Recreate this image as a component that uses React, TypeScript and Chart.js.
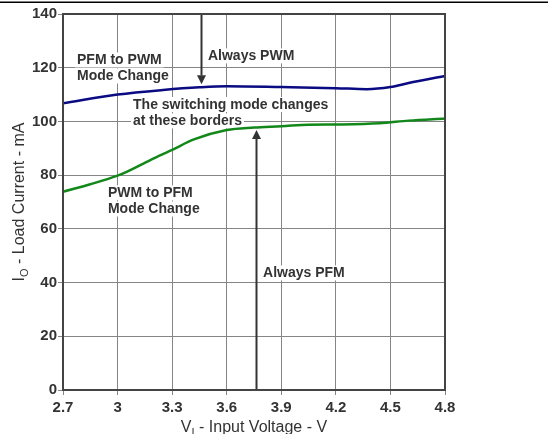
import React, { useEffect, useRef } from 'react';
import { Chart, registerables } from 'chart.js';

Chart.register(...registerables);

const xTickValues = [2.7, 3, 3.3, 3.6, 3.9, 4.2, 4.5, 4.8];
const yTickValues = [0, 20, 40, 60, 80, 100, 120, 140];

// PFM -> PWM border (upper, blue)
const pfmToPwmVoltage = [2.7, 3.0, 3.25, 3.45, 3.6, 3.9, 4.2, 4.37, 4.5, 4.6, 4.8];
const pfmToPwmCurrent = [106.8, 110.0, 111.7, 112.7, 113.1, 112.8, 112.4, 112.0, 112.8, 114.3, 116.9];

// PWM -> PFM border (lower, green)
const pwmToPfmVoltage = [2.7, 2.85, 3.0, 3.05, 3.18, 3.3, 3.42, 3.6, 3.75, 3.9, 4.05, 4.23, 4.44, 4.6, 4.8];
const pwmToPfmCurrent = [73.8, 76.6, 79.8, 81.2, 85.6, 89.4, 93.3, 96.8, 97.7, 98.2, 98.8, 98.9, 99.3, 100.3, 101.1];

// annotation texts: [text, x (V), y (mA)] (left edge, vertical centre)
const annotationLabels: [string, number, number][] = [
  ['PFM to PWM', 2.777, 122.9],
  ['Mode Change', 2.777, 116.9],
  ['Always PWM', 3.497, 124.4],
  ['The switching mode changes', 3.085, 106.3],
  ['at these borders', 3.085, 100.2],
  ['PWM to PFM', 2.947, 73.4],
  ['Mode Change', 2.947, 67.4],
  ['Always PFM', 3.8, 43.6],
];

// arrows: [x (V), from (mA), to tip (mA)]
const arrows: [number, number, number][] = [
  [3.46, 140, 113.8],
  [3.76, 0, 96.8],
];

const FONT = '"Liberation Sans", Arial, Helvetica, sans-serif';
const TEXT = '#333333';

const decorPlugin = {
  id: 'decor',
  beforeDraw(chart: any) {
    const ctx = chart.ctx;
    ctx.save();
    ctx.fillStyle = '#ffffff';
    ctx.fillRect(0, 0, chart.width, chart.height);
    ctx.strokeStyle = '#000000';
    ctx.lineWidth = 1.5;
    ctx.beginPath();
    ctx.moveTo(0, 2.25);
    ctx.lineTo(chart.width, 2.25);
    ctx.stroke();
    ctx.restore();
  },
  beforeDatasetsDraw(chart: any) {
    const ctx = chart.ctx;
    const xs = chart.scales.x;
    const ys = chart.scales.y;
    ctx.save();
    ctx.font = `bold 14px ${FONT}`;
    ctx.textBaseline = 'middle';
    ctx.textAlign = 'left';
    for (const [t, xv, yv] of annotationLabels) {
      const px = xs.getPixelForValue(xv);
      const py = ys.getPixelForValue(yv);
      const w = ctx.measureText(t).width;
      ctx.fillStyle = '#ffffff';
      ctx.fillRect(px - 2, py - 7.5, w + 4, 15);
      ctx.fillStyle = TEXT;
      ctx.fillText(t, px, py + 0.5);
    }
    // arrows
    ctx.strokeStyle = '#333333';
    ctx.fillStyle = '#333333';
    ctx.lineWidth = 2;
    for (const [xv, from, to] of arrows) {
      const px = Math.round(xs.getPixelForValue(xv)) + 0.5;
      const y0 = ys.getPixelForValue(from);
      const y1 = ys.getPixelForValue(to);
      const dir = y1 > y0 ? 1 : -1;
      const headLen = 9;
      ctx.beginPath();
      ctx.moveTo(px, y0);
      ctx.lineTo(px, y1 - dir * headLen);
      ctx.stroke();
      ctx.beginPath();
      ctx.moveTo(px, y1);
      ctx.lineTo(px - 4.5, y1 - dir * headLen);
      ctx.lineTo(px + 4.5, y1 - dir * headLen);
      ctx.closePath();
      ctx.fill();
    }
    ctx.restore();
  },
  afterDraw(chart: any) {
    const ctx = chart.ctx;
    const a = chart.chartArea;
    ctx.save();
    // plot frame
    ctx.strokeStyle = '#444444';
    ctx.lineWidth = 2;
    ctx.strokeRect(a.left, a.top, a.right - a.left, a.bottom - a.top);

    // axis titles with subscripts
    const drawSub = (main: string, sub: string, rest: string, cx: number, cy: number) => {
      ctx.font = `16px ${FONT}`;
      const w1 = ctx.measureText(main).width;
      ctx.font = `11px ${FONT}`;
      const w2 = ctx.measureText(sub).width;
      ctx.font = `16px ${FONT}`;
      const w3 = ctx.measureText(rest).width;
      const total = w1 + w2 + w3;
      let x = cx - total / 2;
      ctx.fillStyle = TEXT;
      ctx.textAlign = 'left';
      ctx.textBaseline = 'alphabetic';
      ctx.font = `16px ${FONT}`;
      ctx.fillText(main, x, cy);
      x += w1;
      ctx.font = `11px ${FONT}`;
      ctx.fillText(sub, x, cy + 4);
      x += w2;
      ctx.font = `16px ${FONT}`;
      ctx.fillText(rest, x, cy);
    };
    const midX = (a.left + a.right) / 2;
    const midY = (a.top + a.bottom) / 2;
    drawSub('V', 'I', ' - Input Voltage - V', midX, 432);
    ctx.save();
    ctx.translate(24, midY);
    ctx.rotate(-Math.PI / 2);
    drawSub('I', 'O', ' - Load Current - mA', 0, 0);
    ctx.restore();
    ctx.restore();
  },
};

export default function App() {
  const ref = useRef<HTMLCanvasElement | null>(null);
  useEffect(() => {
    if (!ref.current) return;
    const chart = new Chart(ref.current, {
      type: 'line',
      data: {
        datasets: [
          {
            label: 'PFM to PWM',
            data: pfmToPwmVoltage.map((v, i) => ({ x: v, y: pfmToPwmCurrent[i] })),
            borderColor: '#0a0a82',
            borderWidth: 2.5,
            pointRadius: 0,
            cubicInterpolationMode: 'monotone',
            fill: false,
          },
          {
            label: 'PWM to PFM',
            data: pwmToPfmVoltage.map((v, i) => ({ x: v, y: pwmToPfmCurrent[i] })),
            borderColor: '#12881a',
            borderWidth: 2.5,
            pointRadius: 0,
            cubicInterpolationMode: 'monotone',
            fill: false,
          },
        ],
      },
      options: {
        animation: false,
        responsive: false,
        devicePixelRatio: 1,
        layout: { padding: { top: 14, right: 103, left: 0, bottom: 0 } },
        plugins: {
          legend: { display: false },
          tooltip: { enabled: false },
          title: { display: false },
        },
        scales: {
          x: {
            type: 'linear',
            min: 2.7,
            max: 4.8,
            afterBuildTicks: (s: any) => {
              s.ticks = xTickValues.map((v) => ({ value: v }));
            },
            afterFit: (s: any) => {
              s.height = 44;
            },
            ticks: {
              color: TEXT,
              font: { family: FONT, size: 15, weight: 'bold' },
              padding: 4,
              maxRotation: 0,
              autoSkip: false,
              callback: (v: any) => String(v),
            },
            grid: { color: '#858585', lineWidth: 1, tickLength: 5, drawTicks: true },
            border: { display: false },
          },
          y: {
            type: 'linear',
            min: 0,
            max: 140,
            afterBuildTicks: (s: any) => {
              s.ticks = yTickValues.map((v) => ({ value: v }));
            },
            afterFit: (s: any) => {
              s.width = 63;
            },
            ticks: {
              color: TEXT,
              font: { family: FONT, size: 15, weight: 'bold' },
              padding: 1,
              autoSkip: false,
              callback: (v: any) => String(v),
            },
            grid: { color: '#858585', lineWidth: 1, tickLength: 5, drawTicks: true },
            border: { display: false },
          },
        },
      },
      plugins: [decorPlugin],
    } as any);
    return () => chart.destroy();
  }, []);
  return (
    <div style={{ position: 'absolute', left: 0, top: 0, width: 548, height: 434, background: '#fff' }}>
      <canvas ref={ref} width={548} height={434} style={{ width: 548, height: 434, display: 'block' }} />
    </div>
  );
}
